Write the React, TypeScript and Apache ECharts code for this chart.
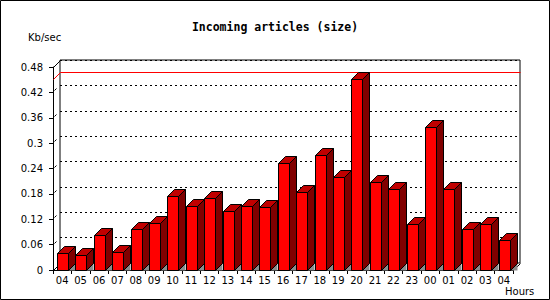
import { useEffect, useRef } from "react";
import * as echarts from "echarts";

const hours = ["04","05","06","07","08","09","10","11","12","13","14","15","16","17","18","19","20","21","22","23","00","01","02","03","04"];
const sizeKbSec = [0.040,0.035,0.082,0.042,0.098,0.110,0.174,0.151,0.170,0.139,0.151,0.148,0.252,0.184,0.271,0.219,0.451,0.207,0.191,0.108,0.337,0.191,0.098,0.108,0.070];
const yTickValues = [0.06,0.12,0.18,0.24,0.3,0.36,0.42];
const yMin = 0;
const yMax = 0.48;
const yStep = 0.06;

const DEPTH = 7;
const FRONT_W = 11;

export default function App() {
  const ref = useRef<HTMLDivElement>(null);
  useEffect(() => {
    if (!ref.current) return;
    const chart = echarts.init(ref.current, null, { renderer: "svg" });
    const maxVal = Math.max(...sizeKbSec);
    const labelFont = "DejaVu Sans";
    const fmt = (v: number) => (v === 0 ? "0" : String(+v.toFixed(2)));

    const option: any = {
      animation: false,
      backgroundColor: "#ffffff",
      title: {
        text: "Incoming articles (size)",
        left: "center",
        top: 21,
        padding: 0,
        textStyle: { fontFamily: "DejaVu Sans Mono", fontWeight: "bold", fontSize: 11.5, color: "#000" },
      },
      grid: [
        { left: 53, right: 37, top: 67, bottom: 30, show: false },
        { left: 60, right: 30, top: 60, bottom: 37, show: true, borderColor: "#000", borderWidth: 1, backgroundColor: "transparent" },
      ],
      xAxis: [
        {
          gridIndex: 0,
          type: "category",
          data: hours,
          boundaryGap: true,
          axisLine: { show: true, lineStyle: { color: "#000", width: 1 } },
          axisTick: { show: true, length: 4, lineStyle: { color: "#000" } },
          axisLabel: { color: "#000", fontFamily: labelFont, fontSize: 10, margin: 5, interval: 0 },
          splitLine: { show: false },
        },
        { gridIndex: 1, type: "value", min: 0, max: 1, show: false },
      ],
      yAxis: [
        {
          gridIndex: 0,
          type: "value",
          min: yMin,
          max: yMax,
          interval: yStep,
          axisLine: { show: true, lineStyle: { color: "#000", width: 1 } },
          axisTick: { show: true, length: 4, lineStyle: { color: "#000" } },
          axisLabel: { color: "#000", fontFamily: labelFont, fontSize: 10, margin: 10, formatter: fmt },
          splitLine: { show: false },
        },
        {
          gridIndex: 1,
          type: "value",
          min: yMin,
          max: yMax,
          interval: yStep,
          axisLine: { show: false },
          axisTick: { show: false },
          axisLabel: { show: false },
          splitLine: { show: true, lineStyle: { color: "#000", width: 1, type: [2, 3] } },
        },
      ],
      graphic: [
        { type: "rect", shape: { x: 0.5, y: 0.5, width: 549, height: 299 }, style: { fill: "none", stroke: "#000", lineWidth: 1 }, silent: true },
        { type: "text", left: 28, top: 32, style: { text: "Kb/sec", fontFamily: labelFont, fontSize: 10, fill: "#000" } },
        { type: "text", left: 505, top: 286, style: { text: "Hours", fontFamily: labelFont, fontSize: 10, fill: "#000" } },
      ],
      series: [
        {
          type: "custom",
          name: "frame",
          xAxisIndex: 0,
          yAxisIndex: 0,
          silent: true,
          data: [[0, maxVal]],
          renderItem: (params: any, api: any) => {
            const cs = params.coordSys;
            const L = Math.round(cs.x) + 0.5;
            const R = Math.round(cs.x + cs.width) + 0.5;
            const T = Math.round(cs.y) + 0.5;
            const B = Math.round(cs.y + cs.height) + 0.5;
            const ym = Math.round(api.coord([0, api.value(1)])[1]) + 0.5;
            const blk = { stroke: "#000", lineWidth: 1 };
            const red = { stroke: "#ff0000", lineWidth: 1 };
            return {
              type: "group",
              children: [
                { type: "line", shape: { x1: L, y1: T, x2: L + DEPTH, y2: T - DEPTH }, style: blk },
                { type: "line", shape: { x1: R, y1: B, x2: R + DEPTH, y2: B - DEPTH }, style: blk },
                { type: "line", shape: { x1: L, y1: B, x2: L + DEPTH, y2: B - DEPTH }, style: blk },
                { type: "line", shape: { x1: L + DEPTH, y1: ym - DEPTH, x2: R + DEPTH, y2: ym - DEPTH }, style: red },
                { type: "line", shape: { x1: L, y1: ym, x2: L + DEPTH, y2: ym - DEPTH }, style: red },
              ],
            };
          },
        },
        {
          type: "custom",
          name: "tickmarks",
          xAxisIndex: 0,
          yAxisIndex: 0,
          silent: true,
          data: yTickValues.map((v) => [0, v]),
          renderItem: (params: any, api: any) => {
            const cs = params.coordSys;
            const L = Math.round(cs.x) + 0.5;
            const y = Math.round(api.coord([0, api.value(1)])[1]) + 0.5;
            return { type: "line", shape: { x1: L + 1, y1: y - 2, x2: L + 3, y2: y - 4 }, style: { stroke: "#000", lineWidth: 1 } };
          },
        },
        {
          type: "custom",
          name: "Incoming articles (size)",
          xAxisIndex: 0,
          yAxisIndex: 0,
          data: sizeKbSec.map((v, i) => [i, v]),
          renderItem: (params: any, api: any) => {
            const i = api.value(0);
            const v = api.value(1);
            const top = api.coord([i, v]);
            const base = api.coord([i, 0]);
            const band = api.size([1, 0])[0];
            const x0 = Math.round(top[0] - band / 2 + 4) + 0.5;
            const x1 = x0 + FRONT_W;
            const ty = Math.round(top[1]) + 0.5;
            const by = Math.round(base[1]) + 0.5;
            const d = DEPTH;
            const stroke = { stroke: "#000", lineWidth: 1 };
            return {
              type: "group",
              children: [
                { type: "polygon", shape: { points: [[x1, by], [x1 + d, by - d], [x1 + d, by]] }, style: { fill: "#8c8c8c" } },
                { type: "polygon", shape: { points: [[x1, ty], [x1 + d, ty - d], [x1 + d, by - d], [x1, by]] }, style: { fill: "#800000", ...stroke } },
                { type: "polygon", shape: { points: [[x0, ty], [x0 + d, ty - d], [x1 + d, ty - d], [x1, ty]] }, style: { fill: "#c00000", ...stroke } },
                { type: "rect", shape: { x: x0, y: ty, width: FRONT_W, height: by - ty }, style: { fill: "#ff0000", ...stroke } },
              ],
            };
          },
        },
      ],
    };
    chart.setOption(option);
    return () => chart.dispose();
  }, []);
  return <div ref={ref} style={{ position: "fixed", left: 0, top: 0, width: 550, height: 300 }} />;
}
